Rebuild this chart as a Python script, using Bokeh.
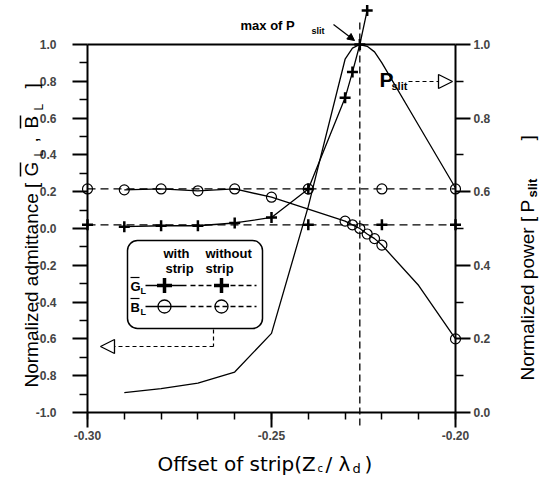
import math
from bokeh.plotting import figure
from bokeh.models import (Range1d, LinearAxis, FixedTicker, PrintfTickFormatter, Label,
                          Arrow, NormalHead, BoxAnnotation)
from bokeh.embed import file_html
from bokeh.resources import INLINE

# ---------------- data ----------------
x_g_with = [-0.29, -0.28, -0.27, -0.26, -0.25, -0.24, -0.23, -0.228, -0.226, -0.224]
g_with = [0.010, 0.015, 0.015, 0.030, 0.060, 0.215, 0.710, 0.850, 1.000, 1.185]

x_b_with = [-0.29, -0.28, -0.27, -0.26, -0.25, -0.23, -0.228, -0.226, -0.224, -0.222, -0.22, -0.21, -0.20]
b_with = [0.210, 0.215, 0.205, 0.215, 0.170, 0.040, 0.020, 0.000, -0.030, -0.055, -0.090, -0.310, -0.600]
b_with_marked = [True, True, True, True, True, True, True, True, True, True, True, False, True]

x_without = [-0.30, -0.24, -0.22, -0.20]
g_without = [0.02, 0.02, 0.02, 0.02]
b_without = [0.215, 0.215, 0.215, 0.215]

x_p = [-0.29, -0.28, -0.27, -0.26, -0.25, -0.24, -0.23, -0.228, -0.226, -0.224, -0.222, -0.22, -0.21, -0.20]
p_slit = [0.054, 0.065, 0.080, 0.110, 0.215, 0.560, 0.960, 0.990, 1.000, 0.995, 0.980, 0.950, 0.780, 0.610]

x_of_max = -0.226

x_ticks = [-0.30, -0.25, -0.20]
x_minor = [-0.30, -0.29, -0.28, -0.27, -0.26, -0.25, -0.24, -0.23, -0.22, -0.21, -0.20]
y_ticks = [-1.0, -0.8, -0.6, -0.4, -0.2, 0.0, 0.2, 0.4, 0.6, 0.8, 1.0]
y_minor = [-0.9, -0.7, -0.5, -0.3, -0.1, 0.1, 0.3, 0.5, 0.7, 0.9]
p_ticks = [0.0, 0.2, 0.4, 0.6, 0.8, 1.0]
p_minor = [0.1, 0.3, 0.5, 0.7, 0.9]

# ---------------- layout ----------------
W, H = 539, 483
PX_X = 3680.0   # pixels per x unit
PX_Y = 184.0    # pixels per left-y unit
X0_PX, Y0_PX = 87, 412          # pixel of x=-0.30 / y=-1.0


def dx(px):
    return -0.30 + (px - X0_PX) / PX_X


def dy(py):
    return -1.0 + (Y0_PX - py) / PX_Y


XMIN, XMAX = dx(0), dx(W)
YMIN, YMAX = dy(H), dy(0)

p = figure(width=W, height=H, output_backend="svg", toolbar_location=None,
           x_range=Range1d(XMIN, XMAX), y_range=Range1d(YMIN, YMAX),
           min_border_left=0, min_border_right=0, min_border_top=0, min_border_bottom=0,
           background_fill_color="white", border_fill_color="white")
p.outline_line_color = None
p.grid.visible = False
p.extra_y_ranges = {"pw": Range1d((YMIN + 1) / 2, (YMAX + 1) / 2)}

TICK_FONT = "Liberation Sans Narrow, Liberation Sans, Arial"

def style_axis(ax, major, minor, fmt, standoff):
    ax.ticker = FixedTicker(ticks=major, minor_ticks=minor)
    ax.formatter = PrintfTickFormatter(format=fmt)
    ax.axis_line_width = 2
    ax.major_tick_line_width = 2
    ax.minor_tick_line_width = 1.5
    ax.major_tick_in = 0
    ax.major_tick_out = 15
    ax.minor_tick_in = 0
    ax.minor_tick_out = 8
    ax.major_label_text_font = TICK_FONT
    ax.major_label_text_font_style = "bold"
    ax.major_label_text_font_size = "12px"
    ax.major_label_standoff = standoff


xa = p.xaxis[0]
style_axis(xa, x_ticks, x_minor, "%.2f", 3)
xa.bounds = (-0.30, -0.20)
xa.fixed_location = -1.0
xa.minor_tick_out = 7

ya = p.yaxis[0]
style_axis(ya, y_ticks, y_minor, "%.1f", 16)
ya.bounds = (-1.0, 1.0)
ya.fixed_location = -0.30

ra = LinearAxis(y_range_name="pw")
style_axis(ra, p_ticks, p_minor, "%.1f", 3)
ra.bounds = (0.0, 1.0)
ra.fixed_location = -0.20
p.add_layout(ra, "right")

# top line at 1.0
p.segment(x0=[-0.30], y0=[1.0], x1=[-0.20], y1=[1.0], line_color="black", line_width=2)

# vertical dashed line at max of P_slit
p.segment(x0=[x_of_max], y0=[dy(22)], x1=[x_of_max], y1=[dy(426)], line_color="black",
          line_width=1.3, line_dash="7 4")

# ---------------- series ----------------
p.line(x_without, g_without, line_color="black", line_width=1.2, line_dash="8 5")
p.line(x_without, b_without, line_color="black", line_width=1.2, line_dash="8 5")
p.line(x_g_with, g_with, line_color="black", line_width=1.3)
p.line(x_b_with, b_with, line_color="black", line_width=1.3)
p.line(x_p, p_slit, y_range_name="pw", line_color="black", line_width=1.3)

p.scatter(x_without, g_without, marker="cross", size=11, line_width=2.5, line_color="black")
p.scatter(x_without, b_without, marker="circle", size=10, fill_color=None, line_color="black", line_width=1.2)
p.scatter(x_g_with, g_with, marker="cross", size=11, line_width=2.5, line_color="black")
bx = [x for x, m in zip(x_b_with, b_with_marked) if m]
by = [y for y, m in zip(b_with, b_with_marked) if m]
p.scatter(bx, by, marker="circle", size=10, fill_color=None, line_color="black", line_width=1.2)

# ---------------- legend box ----------------
box = BoxAnnotation(left=dx(127), right=dx(262), top=dy(240), bottom=dy(328),
                    fill_color="white", fill_alpha=1.0, line_color="black",
                    line_width=1.5, line_alpha=1.0, border_radius=10)
p.add_layout(box)

BOLD = "Liberation Sans, Arial"

def lab(text, px, py, size, bold=True, font=BOLD, align="left", baseline="middle", angle=0.0):
    p.add_layout(Label(x=dx(px), y=dy(py), text=text, text_font=font,
                       text_font_size=f"{size}px",
                       text_font_style="bold" if bold else "normal",
                       text_align=align, text_baseline=baseline, angle=angle,
                       text_color="black"))

lab("with", 163, 253, 13)
lab("strip", 165, 268, 13)
lab("without", 205, 253, 13)
lab("strip", 205, 268, 13)
lab("G", 130, 286, 13)
lab("L", 140, 290, 9)
lab("B", 130, 307, 13)
lab("L", 140, 311, 9)

lg = []
lg.append(p.segment(x0=[dx(130), dx(130)], y0=[dy(277), dy(298)], x1=[dx(139), dx(139)],
                    y1=[dy(277), dy(298)], line_color="black", line_width=1.2))
lg.append(p.segment(x0=[dx(145), dx(145)], y0=[dy(285), dy(306)], x1=[dx(186), dx(186)],
                    y1=[dy(285), dy(306)], line_color="black", line_width=1.5))
lg.append(p.segment(x0=[dx(190), dx(190)], y0=[dy(285), dy(306)], x1=[dx(256), dx(256)],
                    y1=[dy(285), dy(306)], line_color="black", line_width=1.5, line_dash="5 3"))
lg.append(p.scatter([dx(164), dx(221)], [dy(285), dy(285)], marker="cross", size=15,
                    line_width=3.5, line_color="black"))
lg.append(p.scatter([dx(164), dx(221)], [dy(306), dy(306)], marker="circle", size=13,
                    fill_color=None, line_color="black", line_width=1.3))
for r in lg:
    r.level = "overlay"

# connector from legend to left axis
conn = p.segment(x0=[dx(213)], y0=[dy(329)], x1=[dx(213)], y1=[dy(346)], line_color="black",
                 line_width=1.2, line_dash="4 3")
conn.level = "overlay"
p.add_layout(Arrow(x_start=dx(213), y_start=dy(346), x_end=dx(100), y_end=dy(346),
                   line_color="black", line_width=1.2, line_dash="4 3",
                   end=NormalHead(size=14, fill_color="white", line_color="black", line_width=1.3)))

# P_slit label and arrow to the right axis
lab("P", 379, 79, 21)
lab("slit", 391, 85, 11)
p.add_layout(Arrow(x_start=dx(408), y_start=dy(81), x_end=dx(452), y_end=dy(81),
                   line_color="black", line_width=1.2, line_dash="4 3",
                   end=NormalHead(size=14, fill_color="white", line_color="black", line_width=1.3)))

# max of P_slit annotation
lab("max of P", 240, 25, 13)
lab("slit", 311, 30, 9)
p.add_layout(Arrow(x_start=dx(333), y_start=dy(24), x_end=dx(354), y_end=dy(40),
                   line_color="black", line_width=1.2,
                   end=NormalHead(size=7, fill_color="black", line_color="black")))

# ---------------- axis titles ----------------
A = math.pi / 2
TF = "Liberation Sans, Arial"
LC = 31   # centre line of the left title
lab("Normalized admittance [", LC, 387, 19, bold=False, font=TF, angle=A)
lab("G", LC, 176, 19, bold=False, font=TF, angle=A)
lab("L", LC + 7, 156, 12, bold=False, font=TF, angle=A)
lab(",", LC, 142, 19, bold=False, font=TF, angle=A)
lab("B", LC, 128, 19, bold=False, font=TF, angle=A)
lab("L", LC + 7, 110, 12, bold=False, font=TF, angle=A)
lab("]", LC, 88, 19, bold=False, font=TF, angle=A)
p.segment(x0=[dx(LC - 11), dx(LC - 11)], y0=[dy(176), dy(128)], x1=[dx(LC - 11), dx(LC - 11)],
          y1=[dy(162), dy(115)], line_color="black", line_width=1.5)

RC = 527  # centre line of the right title
lab("Normalized power [", RC, 380, 19, bold=False, font=TF, angle=A)
lab("P", RC, 212, 19, bold=False, font=TF, angle=A)
lab("slit", RC + 5, 197, 13, bold=True, font=TF, angle=A)
lab("]", RC, 140, 19, bold=False, font=TF, angle=A)

XF = "DejaVu Sans"
BC = 463  # centre line of the bottom title
lab("Offset of strip(Z", 157, BC, 20, bold=False, font=XF)
lab("c", 317, BC + 5, 10, bold=False, font=XF)
lab("/ \u03bb", 325, BC, 20, bold=False, font=XF)
lab("d", 352, BC + 5, 13, bold=False, font=XF)
lab(")", 364, BC, 20, bold=False, font=XF)

open("out.html", "w").write(file_html(p, INLINE))
